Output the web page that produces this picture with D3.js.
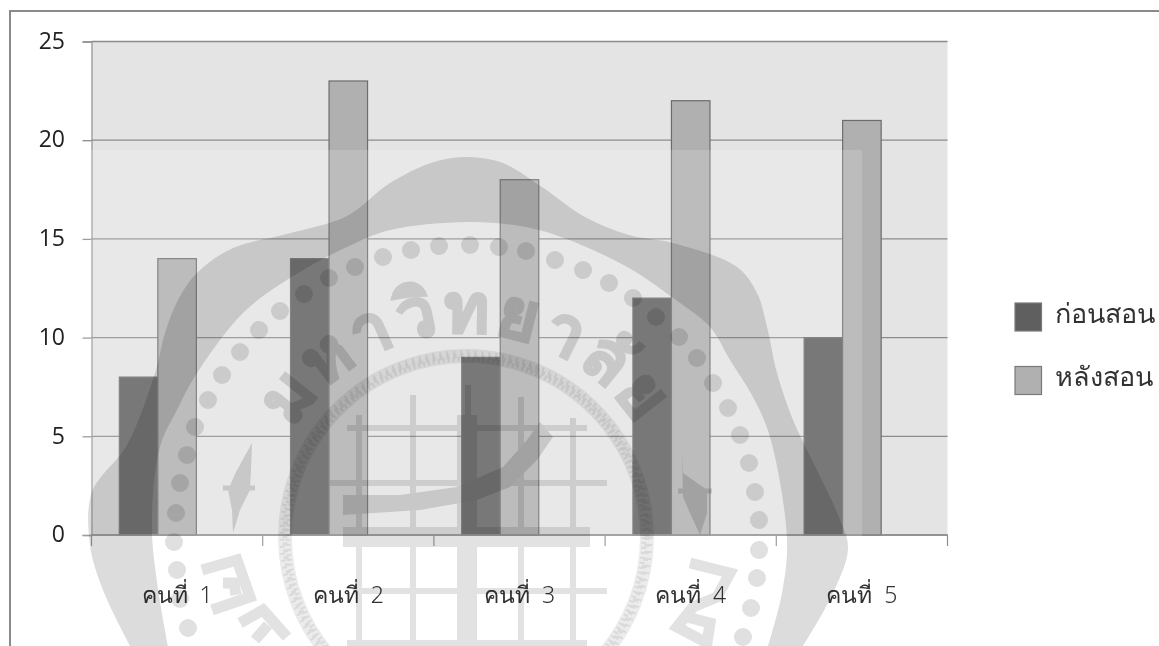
<!DOCTYPE html>
<html lang="th">
<head>
<meta charset="utf-8">
<title>ก่อนสอน หลังสอน</title>
<script src="https://cdn.jsdelivr.net/npm/d3@7"></script>
<style>
  html, body { margin: 0; padding: 0; background: #fff; }
  svg { display: block; }
  text { font-family: "Noto Sans", "Open Sans", sans-serif; }
</style>
</head>
<body>
<svg id="chart" width="1159" height="646"></svg>
<script>
// Chart values
const categories = ["คนที่  1", "คนที่  2", "คนที่  3", "คนที่  4", "คนที่  5"];
const seriesNames = ["ก่อนสอน", "หลังสอน"];
const beforeValues = [8, 14, 9, 12, 10];
const afterValues = [14, 23, 18, 22, 21];
const yTicks = [0, 5, 10, 15, 20, 25];
const seriesColors = ["#5f5f5f", "#b0b0b0"];
const seriesValues = [beforeValues, afterValues];

// University seal laid over the chart
const sealOuter = [[130,646],[103,590],[90,545],[92,492],[127,445],[155,373],[165,333],[178,300],[197,273],[233,248],[287,234],[347,216],[390,183],[434,162],[468,157],[503,163],[542,187],[585,217],[629,235],[673,243],[737,267],[757,293],[767,327],[777,373],[793,420],[807,450],[838,515],[848,548],[833,593],[803,646]];
const sealInner = [[768,646],[782,593],[787,540],[770,437],[753,397],[730,360],[710,327],[673,298],[629,268],[564,238],[520,226],[468,222],[390,230],[347,247],[290,278],[243,313],[197,373],[177,410],[160,447],[152,533],[168,646]];
const sealDots = [[188,628],[180,599],[177,570],[174,542],[176,513],[180,483],[187,455],[195,427],[208,400],[222,375],[240,352],[259,330],[280,311],[304,294],[329,278],[355,267],[383,257],[411,250],[439,246],[470,245],[499,247],[526,251],[555,260],[583,270],[609,283],[633,298],[656,317],[679,337],[697,358],[713,383],[728,408],[740,435],[749,463],[755,492],[759,520],[759,550],[757,578],[751,608],[743,637]];
const sealThinBars = [[359,415,359,646,6],[413,395,413,646,6],[468,385,468,415,6],[521,397,521,646,6],[573,418,573,646,6],[347,428,587,428,6],[330,483,607,483,6],[353,591,607,591,6],[347,643,587,643,6],[467,415,467,646,20],[343,537,590,537,20]];
const sealSwoosh = [[343,495],[400,495],[457,487],[503,467],[527,440],[540,422],[553,437],[537,460],[510,487],[477,500],[420,510],[343,515]];
const sealOrnaments = [
  [[252,443],[236,472],[228,490],[232,510],[233,533],[240,510],[250,490],[251,470]],
  [[682,448],[683,473],[707,490],[707,513],[700,535],[690,513],[683,497]]
];
const sealOrnamentBars = [[223,488,255,488],[678,491,712,491]];
const sealGlyphs = [
  "M202,570 L237,560 L250,597 L212,610 M223,583 L234,583 L236,595",
  "M240,623 L263,610 L287,637 M255,640 L268,625",
  "M690,563 L730,573 L717,597 L693,607 L677,627 L707,643 L710,623 L687,617"
];

const plot = { left: 91.5, right: 947.5, top: 41.5, bottom: 535 };
const svg = d3.select("#chart");

const x = d3.scaleBand().domain(categories)
  .range([plot.left, plot.right]).paddingInner(0.325).paddingOuter(0.1625);
// Three slots per group; the last slot stays empty
const xSlot = d3.scaleBand().domain(d3.range(3)).range([0, x.bandwidth()]);
const y = d3.scaleLinear().domain([0, 25]).range([plot.bottom, plot.top]);

// Plot background
svg.append("rect")
  .attr("x", plot.left).attr("y", plot.top)
  .attr("width", plot.right - plot.left).attr("height", plot.bottom - plot.top)
  .attr("fill", "#e4e4e4");

// Gridlines and value axis
const yAxis = svg.append("g")
  .attr("transform", `translate(${plot.left},0)`)
  .call(d3.axisLeft(y).tickValues(yTicks).tickSize(9).tickFormat(""));
yAxis.selectAll("line").attr("stroke", "#8c8c8c").attr("stroke-width", 1.3);
yAxis.select(".domain").attr("stroke", "#999").attr("stroke-width", 1.3);
svg.append("g").selectAll("line").data(yTicks).join("line")
  .attr("x1", plot.left).attr("x2", plot.right)
  .attr("y1", d => y(d)).attr("y2", d => y(d))
  .attr("stroke", "#8c8c8c").attr("stroke-width", 1.3);

// Bars
seriesValues.forEach((values, s) => {
  svg.append("g").selectAll("rect").data(values).join("rect")
    .attr("x", (d, i) => x(categories[i]) + xSlot(s))
    .attr("y", d => y(d))
    .attr("width", xSlot.bandwidth())
    .attr("height", d => y(0) - y(d))
    .attr("fill", seriesColors[s])
    .attr("stroke", "#6c6c6c").attr("stroke-width", 1.2);
});

// Category axis line and boundary ticks
svg.append("g").selectAll("line").data(d3.range(categories.length + 1)).join("line")
  .attr("x1", i => plot.left + i * x.step()).attr("x2", i => plot.left + i * x.step())
  .attr("y1", plot.bottom).attr("y2", plot.bottom + 11)
  .attr("stroke", "#8c8c8c").attr("stroke-width", 1.2);
svg.append("line")
  .attr("x1", plot.left).attr("x2", plot.right)
  .attr("y1", plot.bottom).attr("y2", plot.bottom)
  .attr("stroke", "#8c8c8c").attr("stroke-width", 1.3);

// Pale sheet behind the seal
svg.append("rect")
  .attr("x", 0).attr("y", 150).attr("width", 862).attr("height", 496)
  .attr("fill", "#fff").attr("fill-opacity", 0.16);

// Outer frame
svg.append("path")
  .attr("d", "M10,646 L10,11 L1159,11")
  .attr("fill", "none").attr("stroke", "#8a8a8a").attr("stroke-width", 2);

// Value labels
svg.append("g").selectAll("text").data(yTicks).join("text")
  .attr("x", 65).attr("y", d => y(d) - 1).attr("dy", "0.36em")
  .attr("text-anchor", "end")
  .attr("font-size", 23).attr("fill", "#222")
  .style("font-family", "'Open Sans', sans-serif")
  .text(d => d);

// Category labels
svg.append("g")
  .attr("transform", `translate(0,${plot.bottom})`)
  .call(d3.axisBottom(x).tickSize(0).tickPadding(52))
  .call(g => g.select(".domain").remove())
  .selectAll("text")
  .attr("font-size", 23).attr("font-weight", 300).attr("fill", "#333")
  .style("font-family", "'Noto Sans', sans-serif")
  .attr("xml:space", "preserve").style("white-space", "pre");

// Legend
const legend = svg.append("g").selectAll("g").data(seriesNames).join("g")
  .attr("transform", (d, i) => `translate(1015,${303 + i * 63.5})`);
legend.append("rect")
  .attr("width", 26.5).attr("height", 28)
  .attr("fill", (d, i) => seriesColors[i])
  .attr("stroke", "#7a7a7a").attr("stroke-width", 1.2);
legend.append("text")
  .attr("x", 40).attr("y", 19.5)
  .attr("font-size", 27).attr("font-weight", 300).attr("fill", "#333")
  .text(d => d);

// Seal, multiplied over everything below
const seal = svg.append("g").style("mix-blend-mode", "multiply");
const smooth = d3.line().curve(d3.curveCatmullRom.alpha(0.5));
const closedPolygon = d3.line().curve(d3.curveLinearClosed);
const shade = "#dcdcdc";
const paleShade = "#e2e2e2";

seal.append("path")
  .attr("d", smooth(sealOuter) + "L" + smooth(sealInner).slice(1) + "Z")
  .attr("fill", shade);

seal.append("g").selectAll("circle").data(sealDots).join("circle")
  .attr("cx", d => d[0]).attr("cy", d => d[1]).attr("r", 9).attr("fill", "#e0e0e0");

// Speckled inner ring
const ring = { cx: 466, cy: 537, r: 181 };
seal.append("circle").attr("cx", ring.cx).attr("cy", ring.cy).attr("r", ring.r)
  .attr("fill", "none").attr("stroke", "#ececec").attr("stroke-width", 14);
[[178, "2 3", 5], [181, "3 4", 5], [184, "2 5", 5]].forEach(([r, dash, width]) => {
  seal.append("circle").attr("cx", ring.cx).attr("cy", ring.cy).attr("r", r)
    .attr("fill", "none").attr("stroke", "#dadada").attr("stroke-width", width)
    .attr("stroke-dasharray", dash);
});

// Building at the centre of the seal
seal.append("g").selectAll("line").data(sealThinBars).join("line")
  .attr("x1", d => d[0]).attr("y1", d => d[1]).attr("x2", d => d[2]).attr("y2", d => d[3])
  .attr("stroke", paleShade).attr("stroke-width", d => d[4]);
seal.append("path").attr("d", closedPolygon(sealSwoosh)).attr("fill", shade);

// Side ornaments
seal.append("g").selectAll("path").data(sealOrnaments).join("path")
  .attr("d", closedPolygon).attr("fill", shade);
seal.append("g").selectAll("line").data(sealOrnamentBars).join("line")
  .attr("x1", d => d[0]).attr("y1", d => d[1]).attr("x2", d => d[2]).attr("y2", d => d[3])
  .attr("stroke", shade).attr("stroke-width", 5);

// Lettering along the seal
seal.append("path").attr("id", "sealArc").attr("fill", "none")
  .attr("d", "M261,537 A205,205 0 0 1 671,537");
seal.append("text")
  .attr("font-size", 68).attr("font-weight", 700).attr("fill", shade)
  .attr("stroke", shade).attr("stroke-width", 2.5)
  .style("letter-spacing", "5px")
  .append("textPath").attr("href", "#sealArc")
  .attr("startOffset", "50%").attr("text-anchor", "middle")
  .text("มหาวิทยาลัย");
seal.append("g").selectAll("path").data(sealGlyphs).join("path")
  .attr("d", d => d).attr("fill", "none").attr("stroke", paleShade).attr("stroke-width", 11);
</script>
</body>
</html>
